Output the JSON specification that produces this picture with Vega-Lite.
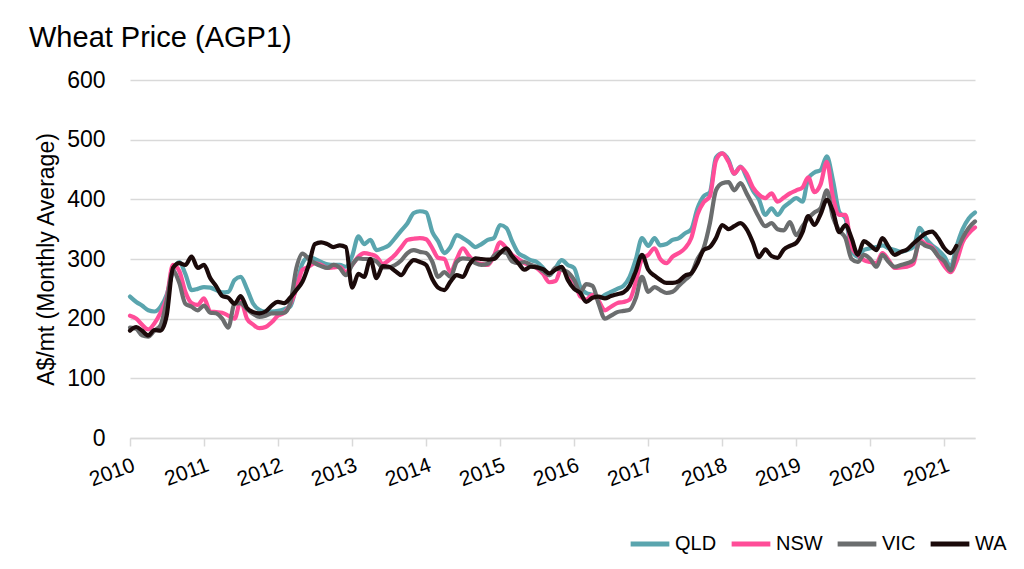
{
  "$schema": "https://vega.github.io/schema/vega-lite/v6.json",
  "width": 845,
  "height": 358,
  "autosize": {"type": "none"},
  "padding": {"left": 130, "top": 80, "right": 49, "bottom": 131},
  "background": "white",
  "config": {
    "view": {"stroke": null},
    "font": "Liberation Sans"
  },
  "title": {
    "text": "Wheat Price (AGP1)",
    "anchor": "start",
    "frame": "group",
    "fontSize": 29,
    "fontWeight": "normal",
    "color": "#000000",
    "dx": -101,
    "offset": 16
  },
  "data": {
    "values": [
      {"d":"2010-01-01","QLD":237,"NSW":205,"VIC":185,"WA":180},
      {"d":"2010-02-01","QLD":228,"NSW":200,"VIC":183,"WA":186},
      {"d":"2010-03-01","QLD":222,"NSW":190,"VIC":172,"WA":180},
      {"d":"2010-04-01","QLD":214,"NSW":182,"VIC":170,"WA":172},
      {"d":"2010-05-01","QLD":212,"NSW":192,"VIC":180,"WA":181},
      {"d":"2010-06-01","QLD":220,"NSW":210,"VIC":189,"WA":180},
      {"d":"2010-07-01","QLD":240,"NSW":235,"VIC":230,"WA":205},
      {"d":"2010-08-01","QLD":280,"NSW":290,"VIC":280,"WA":285},
      {"d":"2010-09-01","QLD":295,"NSW":280,"VIC":260,"WA":293},
      {"d":"2010-10-01","QLD":275,"NSW":245,"VIC":225,"WA":290},
      {"d":"2010-11-01","QLD":248,"NSW":226,"VIC":220,"WA":304},
      {"d":"2010-12-01","QLD":250,"NSW":223,"VIC":214,"WA":285},
      {"d":"2011-01-01","QLD":253,"NSW":234,"VIC":222,"WA":290},
      {"d":"2011-02-01","QLD":252,"NSW":212,"VIC":210,"WA":268},
      {"d":"2011-03-01","QLD":248,"NSW":211,"VIC":209,"WA":255},
      {"d":"2011-04-01","QLD":244,"NSW":210,"VIC":200,"WA":238},
      {"d":"2011-05-01","QLD":245,"NSW":205,"VIC":185,"WA":235},
      {"d":"2011-06-01","QLD":265,"NSW":200,"VIC":225,"WA":225},
      {"d":"2011-07-01","QLD":270,"NSW":230,"VIC":226,"WA":238},
      {"d":"2011-08-01","QLD":250,"NSW":200,"VIC":216,"WA":218},
      {"d":"2011-09-01","QLD":225,"NSW":190,"VIC":208,"WA":211},
      {"d":"2011-10-01","QLD":215,"NSW":184,"VIC":203,"WA":209},
      {"d":"2011-11-01","QLD":212,"NSW":186,"VIC":205,"WA":212},
      {"d":"2011-12-01","QLD":212,"NSW":194,"VIC":209,"WA":222},
      {"d":"2012-01-01","QLD":213,"NSW":205,"VIC":209,"WA":228},
      {"d":"2012-02-01","QLD":216,"NSW":210,"VIC":210,"WA":226},
      {"d":"2012-03-01","QLD":220,"NSW":224,"VIC":225,"WA":235},
      {"d":"2012-04-01","QLD":255,"NSW":250,"VIC":285,"WA":248},
      {"d":"2012-05-01","QLD":293,"NSW":282,"VIC":309,"WA":262},
      {"d":"2012-06-01","QLD":303,"NSW":287,"VIC":300,"WA":290},
      {"d":"2012-07-01","QLD":300,"NSW":293,"VIC":293,"WA":325},
      {"d":"2012-08-01","QLD":295,"NSW":290,"VIC":288,"WA":328},
      {"d":"2012-09-01","QLD":291,"NSW":285,"VIC":285,"WA":325},
      {"d":"2012-10-01","QLD":290,"NSW":286,"VIC":290,"WA":320},
      {"d":"2012-11-01","QLD":290,"NSW":287,"VIC":285,"WA":323},
      {"d":"2012-12-01","QLD":287,"NSW":278,"VIC":273,"WA":320},
      {"d":"2013-01-01","QLD":305,"NSW":290,"VIC":290,"WA":252},
      {"d":"2013-02-01","QLD":338,"NSW":304,"VIC":301,"WA":275},
      {"d":"2013-03-01","QLD":325,"NSW":310,"VIC":300,"WA":270},
      {"d":"2013-04-01","QLD":332,"NSW":308,"VIC":300,"WA":300},
      {"d":"2013-05-01","QLD":315,"NSW":304,"VIC":296,"WA":268},
      {"d":"2013-06-01","QLD":318,"NSW":292,"VIC":286,"WA":288},
      {"d":"2013-07-01","QLD":323,"NSW":298,"VIC":286,"WA":287},
      {"d":"2013-08-01","QLD":335,"NSW":307,"VIC":290,"WA":280},
      {"d":"2013-09-01","QLD":348,"NSW":320,"VIC":298,"WA":273},
      {"d":"2013-10-01","QLD":360,"NSW":332,"VIC":310,"WA":288},
      {"d":"2013-11-01","QLD":377,"NSW":334,"VIC":315,"WA":298},
      {"d":"2013-12-01","QLD":380,"NSW":335,"VIC":312,"WA":295},
      {"d":"2014-01-01","QLD":378,"NSW":333,"VIC":310,"WA":290},
      {"d":"2014-02-01","QLD":345,"NSW":318,"VIC":295,"WA":266},
      {"d":"2014-03-01","QLD":330,"NSW":302,"VIC":270,"WA":252},
      {"d":"2014-04-01","QLD":310,"NSW":300,"VIC":278,"WA":248},
      {"d":"2014-05-01","QLD":320,"NSW":278,"VIC":270,"WA":262},
      {"d":"2014-06-01","QLD":340,"NSW":300,"VIC":295,"WA":273},
      {"d":"2014-07-01","QLD":335,"NSW":318,"VIC":301,"WA":270},
      {"d":"2014-08-01","QLD":328,"NSW":305,"VIC":300,"WA":290},
      {"d":"2014-09-01","QLD":320,"NSW":295,"VIC":293,"WA":301},
      {"d":"2014-10-01","QLD":325,"NSW":292,"VIC":290,"WA":300},
      {"d":"2014-11-01","QLD":332,"NSW":290,"VIC":292,"WA":299},
      {"d":"2014-12-01","QLD":335,"NSW":305,"VIC":305,"WA":300},
      {"d":"2015-01-01","QLD":357,"NSW":328,"VIC":312,"WA":310},
      {"d":"2015-02-01","QLD":352,"NSW":318,"VIC":310,"WA":318},
      {"d":"2015-03-01","QLD":330,"NSW":307,"VIC":296,"WA":305},
      {"d":"2015-04-01","QLD":310,"NSW":300,"VIC":293,"WA":293},
      {"d":"2015-05-01","QLD":304,"NSW":293,"VIC":295,"WA":282},
      {"d":"2015-06-01","QLD":298,"NSW":290,"VIC":290,"WA":287},
      {"d":"2015-07-01","QLD":295,"NSW":285,"VIC":287,"WA":286},
      {"d":"2015-08-01","QLD":285,"NSW":275,"VIC":280,"WA":283},
      {"d":"2015-09-01","QLD":273,"NSW":261,"VIC":273,"WA":276},
      {"d":"2015-10-01","QLD":285,"NSW":263,"VIC":285,"WA":282},
      {"d":"2015-11-01","QLD":298,"NSW":285,"VIC":282,"WA":287},
      {"d":"2015-12-01","QLD":290,"NSW":270,"VIC":278,"WA":265},
      {"d":"2016-01-01","QLD":285,"NSW":262,"VIC":265,"WA":250},
      {"d":"2016-02-01","QLD":253,"NSW":237,"VIC":245,"WA":243},
      {"d":"2016-03-01","QLD":243,"NSW":232,"VIC":258,"WA":228},
      {"d":"2016-04-01","QLD":240,"NSW":240,"VIC":255,"WA":235},
      {"d":"2016-05-01","QLD":234,"NSW":230,"VIC":225,"WA":237},
      {"d":"2016-06-01","QLD":240,"NSW":214,"VIC":200,"WA":234},
      {"d":"2016-07-01","QLD":245,"NSW":220,"VIC":205,"WA":238},
      {"d":"2016-08-01","QLD":250,"NSW":226,"VIC":211,"WA":241},
      {"d":"2016-09-01","QLD":255,"NSW":228,"VIC":213,"WA":244},
      {"d":"2016-10-01","QLD":270,"NSW":232,"VIC":215,"WA":255},
      {"d":"2016-11-01","QLD":300,"NSW":262,"VIC":235,"WA":280},
      {"d":"2016-12-01","QLD":335,"NSW":300,"VIC":270,"WA":307},
      {"d":"2017-01-01","QLD":322,"NSW":307,"VIC":245,"WA":282},
      {"d":"2017-02-01","QLD":335,"NSW":318,"VIC":253,"WA":272},
      {"d":"2017-03-01","QLD":323,"NSW":300,"VIC":248,"WA":265},
      {"d":"2017-04-01","QLD":325,"NSW":293,"VIC":243,"WA":260},
      {"d":"2017-05-01","QLD":332,"NSW":304,"VIC":245,"WA":260},
      {"d":"2017-06-01","QLD":335,"NSW":310,"VIC":255,"WA":263},
      {"d":"2017-07-01","QLD":343,"NSW":318,"VIC":265,"WA":272},
      {"d":"2017-08-01","QLD":350,"NSW":335,"VIC":275,"WA":276},
      {"d":"2017-09-01","QLD":385,"NSW":375,"VIC":300,"WA":293},
      {"d":"2017-10-01","QLD":405,"NSW":395,"VIC":318,"WA":315},
      {"d":"2017-11-01","QLD":412,"NSW":405,"VIC":360,"WA":320},
      {"d":"2017-12-01","QLD":470,"NSW":465,"VIC":415,"WA":335},
      {"d":"2018-01-01","QLD":477,"NSW":477,"VIC":427,"WA":357},
      {"d":"2018-02-01","QLD":466,"NSW":463,"VIC":429,"WA":350},
      {"d":"2018-03-01","QLD":443,"NSW":443,"VIC":415,"WA":355},
      {"d":"2018-04-01","QLD":455,"NSW":454,"VIC":427,"WA":360},
      {"d":"2018-05-01","QLD":437,"NSW":443,"VIC":410,"WA":350},
      {"d":"2018-06-01","QLD":415,"NSW":420,"VIC":390,"WA":328},
      {"d":"2018-07-01","QLD":400,"NSW":408,"VIC":370,"WA":303},
      {"d":"2018-08-01","QLD":374,"NSW":402,"VIC":355,"WA":316},
      {"d":"2018-09-01","QLD":385,"NSW":410,"VIC":360,"WA":305},
      {"d":"2018-10-01","QLD":374,"NSW":396,"VIC":350,"WA":302},
      {"d":"2018-11-01","QLD":387,"NSW":403,"VIC":348,"WA":316},
      {"d":"2018-12-01","QLD":395,"NSW":410,"VIC":362,"WA":322},
      {"d":"2019-01-01","QLD":402,"NSW":415,"VIC":340,"WA":327},
      {"d":"2019-02-01","QLD":396,"NSW":420,"VIC":355,"WA":345},
      {"d":"2019-03-01","QLD":435,"NSW":437,"VIC":368,"WA":372},
      {"d":"2019-04-01","QLD":445,"NSW":412,"VIC":378,"WA":357},
      {"d":"2019-05-01","QLD":449,"NSW":425,"VIC":385,"WA":375},
      {"d":"2019-06-01","QLD":472,"NSW":463,"VIC":415,"WA":399},
      {"d":"2019-07-01","QLD":432,"NSW":404,"VIC":370,"WA":380},
      {"d":"2019-08-01","QLD":379,"NSW":374,"VIC":348,"WA":345},
      {"d":"2019-09-01","QLD":368,"NSW":374,"VIC":335,"WA":357},
      {"d":"2019-10-01","QLD":315,"NSW":320,"VIC":300,"WA":335},
      {"d":"2019-11-01","QLD":304,"NSW":307,"VIC":295,"WA":307},
      {"d":"2019-12-01","QLD":315,"NSW":298,"VIC":307,"WA":330},
      {"d":"2020-01-01","QLD":318,"NSW":295,"VIC":300,"WA":323},
      {"d":"2020-02-01","QLD":320,"NSW":293,"VIC":287,"WA":315},
      {"d":"2020-03-01","QLD":323,"NSW":310,"VIC":307,"WA":335},
      {"d":"2020-04-01","QLD":318,"NSW":298,"VIC":295,"WA":320},
      {"d":"2020-05-01","QLD":315,"NSW":285,"VIC":287,"WA":307},
      {"d":"2020-06-01","QLD":312,"NSW":286,"VIC":290,"WA":312},
      {"d":"2020-07-01","QLD":315,"NSW":287,"VIC":293,"WA":316},
      {"d":"2020-08-01","QLD":320,"NSW":292,"VIC":298,"WA":326},
      {"d":"2020-09-01","QLD":352,"NSW":332,"VIC":328,"WA":335},
      {"d":"2020-10-01","QLD":335,"NSW":325,"VIC":322,"WA":343},
      {"d":"2020-11-01","QLD":323,"NSW":320,"VIC":318,"WA":346},
      {"d":"2020-12-01","QLD":315,"NSW":305,"VIC":305,"WA":335},
      {"d":"2021-01-01","QLD":304,"NSW":288,"VIC":296,"WA":318},
      {"d":"2021-02-01","QLD":287,"NSW":278,"VIC":281,"WA":310},
      {"d":"2021-03-01","QLD":320,"NSW":295,"VIC":310,"WA":322},
      {"d":"2021-04-01","QLD":350,"NSW":328,"VIC":335},
      {"d":"2021-05-01","QLD":368,"NSW":343,"VIC":352},
      {"d":"2021-06-01","QLD":378,"NSW":353,"VIC":363}
    ]
  },
  "transform": [
    {"fold": ["QLD", "NSW", "VIC", "WA"], "as": ["state", "price"]},
    {"filter": "isValid(datum.price)"}
  ],
  "mark": {"type": "line", "strokeWidth": 4.2, "interpolate": "monotone", "strokeCap": "round", "strokeJoin": "round"},
  "encoding": {
    "x": {
      "field": "d",
      "type": "temporal",
      "scale": {"type": "utc", "domain": ["2010-01-01", "2021-06-01"]},
      "axis": {
        "title": null,
        "format": "%Y",
        "tickCount": {"interval": "year", "step": 1},
        "grid": false,
        "domainColor": "#d9d9d9",
        "domainWidth": 1.5,
        "tickColor": "#d9d9d9",
        "tickWidth": 1.5,
        "tickSize": 8,
        "labelAngle": -20,
        "labelAlign": "right",
        "labelBaseline": "top",
        "labelPadding": 8,
        "labelFontSize": 21,
        "labelColor": "#000000",
        "labelFlush": false,
        "labelOverlap": false
      }
    },
    "y": {
      "field": "price",
      "type": "quantitative",
      "scale": {"domain": [0, 600], "nice": false},
      "axis": {
        "title": "A$/mt (Monthly Average)",
        "titleFontSize": 23,
        "titleFontWeight": "normal",
        "titleColor": "#000000",
        "titlePadding": 8,
        "values": [0, 100, 200, 300, 400, 500, 600],
        "domain": false,
        "ticks": false,
        "labelPadding": 25,
        "labelFontSize": 23,
        "labelColor": "#000000",
        "gridColor": "#d9d9d9",
        "gridWidth": 1.5
      }
    },
    "color": {
      "field": "state",
      "type": "nominal",
      "sort": ["QLD", "NSW", "VIC", "WA"],
      "scale": {"domain": ["QLD", "NSW", "VIC", "WA"], "range": ["#5AA5AE", "#FF4D98", "#6B6D6E", "#1B0A0A"]},
      "legend": {
        "title": null,
        "orient": "none",
        "direction": "horizontal",
        "legendX": 498,
        "legendY": 442,
        "symbolType": "stroke",
        "symbolSize": 1500,
        "symbolStrokeWidth": 5,
        "labelFontSize": 20,
        "labelColor": "#000000",
        "labelOffset": 3,
        "columnPadding": 4
      }
    }
  }
}
